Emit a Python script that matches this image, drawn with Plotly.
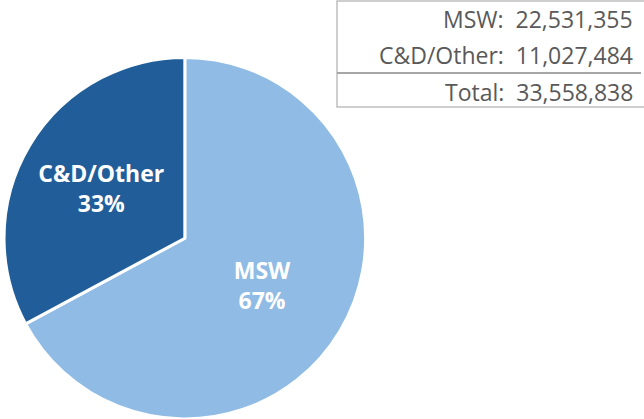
import plotly.graph_objects as go

categories = ["MSW", "C&D/Other"]
values = [22531355, 11027484]
total_value = 33558838
colors = ["#8FBBE4", "#215E99"]

row_labels = categories + ["Total"]
row_values = values + [total_value]

fig = go.Figure()
fig.add_trace(go.Pie(
    labels=categories,
    values=values,
    sort=False,
    direction="clockwise",
    rotation=0,
    marker=dict(colors=colors, line=dict(color="white", width=3)),
    texttemplate="<b>%{label}</b><br><b>%{percent:.0%}</b>",
    textposition="inside",
    insidetextorientation="horizontal",
    textfont=dict(family="Open Sans", size=23, color="white"),
    domain=dict(x=[0.0, 0.574], y=[0.0, 0.863]),
    showlegend=False,
    hoverinfo="label+value+percent",
))

row_y = [19, 55, 92]
for lab, val, y in zip(row_labels, row_values, row_y):
    fig.add_annotation(
        x=635, y=y, xref="x", yref="y", xanchor="right", yanchor="middle",
        text=f"{lab}:  {val:,}", showarrow=False,
        font=dict(family="Open Sans", size=23, color="#595959"),
    )

# table borders
fig.add_shape(type="rect", x0=337, x1=646, y0=1, y1=107, xref="x", yref="y",
              line=dict(color="#BFBFBF", width=1.5))
fig.add_shape(type="line", x0=337, x1=641, y0=73, y1=73, xref="x", yref="y",
              line=dict(color="#A6A6A6", width=2))

fig.update_layout(
    width=644, height=419,
    margin=dict(l=0, r=0, t=0, b=0),
    paper_bgcolor="white", plot_bgcolor="rgba(0,0,0,0)",
    xaxis=dict(range=[0, 644], visible=False, fixedrange=True),
    yaxis=dict(range=[419, 0], visible=False, fixedrange=True),
)

fig.write_html("out.html", config={"displayModeBar": False},
               post_script="document.body.style.margin='0';")
